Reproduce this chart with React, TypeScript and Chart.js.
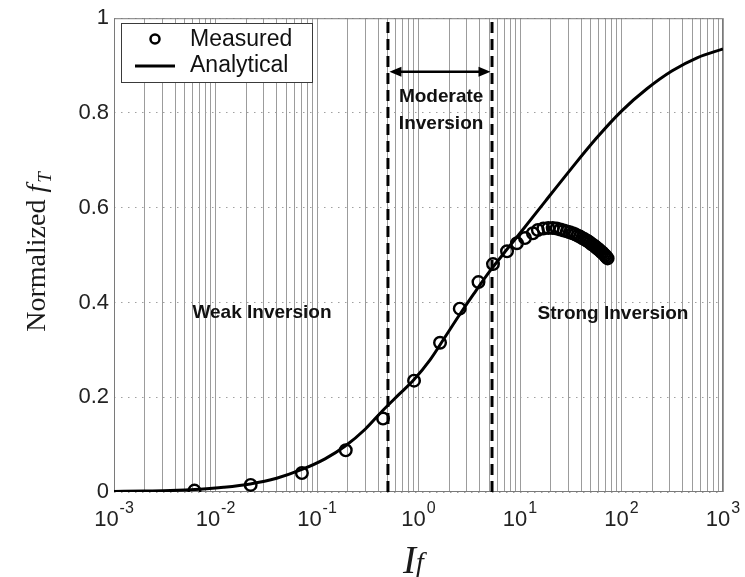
import React, { useEffect, useRef } from 'react';
import { Chart, registerables } from 'chart.js';

Chart.register(...registerables);

// ---- Data ----
const ANALYTICAL_X = [0.001, 0.002, 0.0036, 0.007, 0.012, 0.022, 0.04, 0.07, 0.12, 0.19, 0.3, 0.44, 0.65, 0.9, 1.3, 1.8, 2.5, 3.5, 5, 7, 10, 17.8, 31.6, 56.2, 100, 178, 316, 562, 1000];
const ANALYTICAL_Y = [0.001, 0.002, 0.003, 0.006, 0.01, 0.017, 0.029, 0.047, 0.07, 0.097, 0.133, 0.171, 0.207, 0.237, 0.279, 0.325, 0.372, 0.418, 0.465, 0.505, 0.546, 0.614, 0.681, 0.746, 0.804, 0.851, 0.889, 0.917, 0.935];

const MEASURED_X = [0.0062, 0.0222, 0.071, 0.192, 0.447, 0.904, 1.63, 2.55, 3.9, 5.42, 7.45, 9.33, 11.2, 13.4, 15.0,
  17, 19, 21, 23, 25, 27, 29, 31, 33, 35, 37, 39, 41, 43, 45, 47, 49, 51, 53, 55, 57, 59, 61, 63, 65, 67, 69, 71, 73];
const MEASURED_Y = [0.003, 0.015, 0.04, 0.088, 0.155, 0.235, 0.315, 0.387, 0.443, 0.481, 0.508, 0.525, 0.536, 0.546, 0.553,
  0.556, 0.557, 0.557, 0.556, 0.554, 0.552, 0.55, 0.548, 0.546, 0.544, 0.541, 0.539, 0.536, 0.534, 0.531, 0.529, 0.526, 0.523, 0.521, 0.518, 0.515, 0.513, 0.51, 0.507, 0.505, 0.502, 0.499, 0.496, 0.493];

const BOUNDARY_X = [0.5, 5.3];
const ARROW_Y = 0.887;

const X_EXPONENTS = [-3, -2, -1, 0, 1, 2, 3];
const MINOR_MULTIPLIERS = [1, 2, 3, 4, 5, 6, 7, 8, 9];
const Y_MIN = 0;
const Y_MAX = 1;
const Y_STEP = 0.2;

const SERIES_LABELS = ['Measured', 'Analytical'];
const REGION_LABELS = [
  { lines: ['Weak Inversion'], x: 0.0287, y: 0.378 },
  { lines: ['Strong Inversion'], x: 82.4, y: 0.376 },
  { lines: ['Moderate', 'Inversion'], x: 1.67, y: 0.834 },
];

const SANS = "'Liberation Sans', Arial, sans-serif";
const SERIF = "'Liberation Serif', 'Times New Roman', serif";

const overlayPlugin = {
  id: 'overlay',
  beforeDatasetsDraw(chart: any) {
    const { ctx, chartArea: a } = chart;
    ctx.save();
    ctx.strokeStyle = '#7a7a7a';
    ctx.lineWidth = 1;
    ctx.strokeRect(a.left + 0.5, a.top + 0.5, a.right - a.left - 1, a.bottom - a.top - 1);
    ctx.restore();
  },
  afterDatasetsDraw(chart: any) {
    const { ctx, scales } = chart;
    const xs = scales.x;
    const ys = scales.y;
    // arrow between the boundaries
    const py = ys.getPixelForValue(ARROW_Y);
    const x1 = xs.getPixelForValue(BOUNDARY_X[0]) + 1.5;
    const x2 = xs.getPixelForValue(BOUNDARY_X[1]) - 1.5;
    ctx.save();
    ctx.strokeStyle = '#000';
    ctx.fillStyle = '#000';
    ctx.lineWidth = 2.5;
    ctx.beginPath();
    ctx.moveTo(x1 + 8, py);
    ctx.lineTo(x2 - 8, py);
    ctx.stroke();
    ctx.beginPath();
    ctx.moveTo(x1, py);
    ctx.lineTo(x1 + 12, py - 5);
    ctx.lineTo(x1 + 12, py + 5);
    ctx.closePath();
    ctx.fill();
    ctx.beginPath();
    ctx.moveTo(x2, py);
    ctx.lineTo(x2 - 12, py - 5);
    ctx.lineTo(x2 - 12, py + 5);
    ctx.closePath();
    ctx.fill();

    // region labels
    ctx.font = `bold 19px ${SANS}`;
    ctx.fillStyle = '#111';
    ctx.textAlign = 'center';
    ctx.textBaseline = 'middle';
    REGION_LABELS.forEach((r) => {
      const cx = xs.getPixelForValue(r.x);
      const cy = ys.getPixelForValue(r.y);
      r.lines.forEach((t, i) => ctx.fillText(t, cx, cy + i * 27));
    });
    ctx.restore();
  },
  afterDraw(chart: any) {
    const { ctx, scales, chartArea: a } = chart;
    const xs = scales.x;
    ctx.save();

    // x tick labels 10^e
    ctx.fillStyle = '#222';
    ctx.textBaseline = 'alphabetic';
    ctx.textAlign = 'left';
    X_EXPONENTS.forEach((e) => {
      const px = xs.getPixelForValue(Math.pow(10, e));
      ctx.font = `22px ${SANS}`;
      const wb = ctx.measureText('10').width;
      ctx.font = `16px ${SANS}`;
      const es = String(e);
      const we = ctx.measureText(es).width;
      const start = px - (wb + we + 1) / 2;
      ctx.font = `22px ${SANS}`;
      ctx.fillText('10', start, a.bottom + 34);
      ctx.font = `16px ${SANS}`;
      ctx.fillText(es, start + wb + 1, a.bottom + 21);
    });

    // legend
    const lx = 121, ly = 23, lw = 191, lh = 59;
    ctx.fillStyle = '#fff';
    ctx.fillRect(lx, ly, lw, lh);
    ctx.strokeStyle = '#3a3a3a';
    ctx.lineWidth = 1;
    ctx.strokeRect(lx + 0.5, ly + 0.5, lw, lh);
    ctx.strokeStyle = '#000';
    ctx.lineWidth = 2.5;
    ctx.beginPath();
    ctx.arc(155, 39, 4.5, 0, Math.PI * 2);
    ctx.stroke();
    ctx.lineWidth = 3;
    ctx.beginPath();
    ctx.moveTo(135, 66);
    ctx.lineTo(175, 66);
    ctx.stroke();
    ctx.fillStyle = '#111';
    ctx.font = `23px ${SANS}`;
    ctx.textBaseline = 'middle';
    ctx.fillText(SERIES_LABELS[0], 190, 40);
    ctx.fillText(SERIES_LABELS[1], 190, 66);

    // y axis title
    ctx.save();
    ctx.translate(45, 252);
    ctx.rotate(-Math.PI / 2);
    ctx.textBaseline = 'alphabetic';
    ctx.fillStyle = '#1a1a1a';
    ctx.font = `28px ${SERIF}`;
    const w1 = ctx.measureText('Normalized ').width;
    ctx.font = `italic 28px ${SERIF}`;
    const w2 = ctx.measureText('f').width;
    ctx.font = `italic 19px ${SERIF}`;
    const w3 = ctx.measureText('T').width;
    const total = w1 + w2 + w3 + 2;
    let sx = -total / 2;
    ctx.font = `28px ${SERIF}`;
    ctx.fillText('Normalized ', sx, 0);
    sx += w1;
    ctx.font = `italic 28px ${SERIF}`;
    ctx.fillText('f', sx, 0);
    sx += w2 + 2;
    ctx.font = `italic 19px ${SERIF}`;
    ctx.fillText('T', sx, 6);
    ctx.restore();

    // x axis title
    ctx.fillStyle = '#1a1a1a';
    ctx.textBaseline = 'alphabetic';
    ctx.font = `italic 39px ${SERIF}`;
    const iw = ctx.measureText('I').width;
    ctx.fillText('I', 403, 573);
    ctx.font = `italic 28px ${SERIF}`;
    ctx.fillText('f', 403 + iw, 571);

    ctx.restore();
  },
};

export default function App() {
  const ref = useRef<HTMLCanvasElement | null>(null);

  useEffect(() => {
    document.body.style.margin = '0';
    const canvas = ref.current;
    if (!canvas) return;

    const xTicks: number[] = [];
    X_EXPONENTS.forEach((e) => {
      MINOR_MULTIPLIERS.forEach((m) => {
        const v = m * Math.pow(10, e);
        if (v <= 1000 + 1e-9) xTicks.push(v);
      });
    });

    const chart = new Chart(canvas, {
      type: 'scatter',
      data: {
        datasets: [
          {
            type: 'scatter',
            label: SERIES_LABELS[0],
            data: MEASURED_X.map((x, i) => ({ x, y: MEASURED_Y[i] })),
            pointStyle: 'circle',
            pointRadius: 5.8,
            pointBorderWidth: 2.4,
            borderColor: '#000',
            backgroundColor: 'rgba(0,0,0,0)',
            order: 1,
          } as any,
          {
            type: 'line',
            label: SERIES_LABELS[1],
            data: ANALYTICAL_X.map((x, i) => ({ x, y: ANALYTICAL_Y[i] })),
            borderColor: '#000',
            borderWidth: 3,
            pointRadius: 0,
            cubicInterpolationMode: 'monotone',
            fill: false,
            order: 2,
          } as any,
          ...BOUNDARY_X.map((bx) => ({
            type: 'line',
            label: 'boundary',
            data: [
              { x: bx, y: Y_MIN },
              { x: bx, y: Y_MAX },
            ],
            borderColor: '#000',
            borderWidth: 3,
            borderDash: [11, 6],
            pointRadius: 0,
            fill: false,
            order: 3,
          } as any)),
        ],
      },
      options: {
        responsive: false,
        animation: false,
        layout: { padding: { top: 16, right: 22, left: 0, bottom: 0 } },
        plugins: { legend: { display: false }, tooltip: { enabled: false } },
        scales: {
          x: {
            type: 'logarithmic',
            min: 1e-3,
            max: 1e3,
            afterBuildTicks: (s: any) => {
              s.ticks = xTicks.map((v) => ({ value: v }));
            },
            afterFit: (s: any) => {
              s.height = 85;
            },
            ticks: { display: false },
            grid: { color: '#9c9c9c', lineWidth: 1, drawTicks: false },
            border: { display: false },
          },
          y: {
            type: 'linear',
            min: Y_MIN,
            max: Y_MAX,
            afterFit: (s: any) => {
              s.width = 114;
            },
            ticks: {
              stepSize: Y_STEP,
              padding: 5,
              color: '#222',
              font: { family: SANS, size: 22 },
              callback: (v: any) => String(Number(Number(v).toFixed(1))),
            },
            grid: { color: '#a0a0a0', lineWidth: 1, drawTicks: false },
            border: { display: false, dash: [1.5, 5.5] },
          },
        },
      } as any,
      plugins: [overlayPlugin as any],
    });

    return () => chart.destroy();
  }, []);

  return (
    <canvas
      ref={ref}
      width={745}
      height={577}
      style={{ display: 'block', width: '745px', height: '577px' }}
    />
  );
}
